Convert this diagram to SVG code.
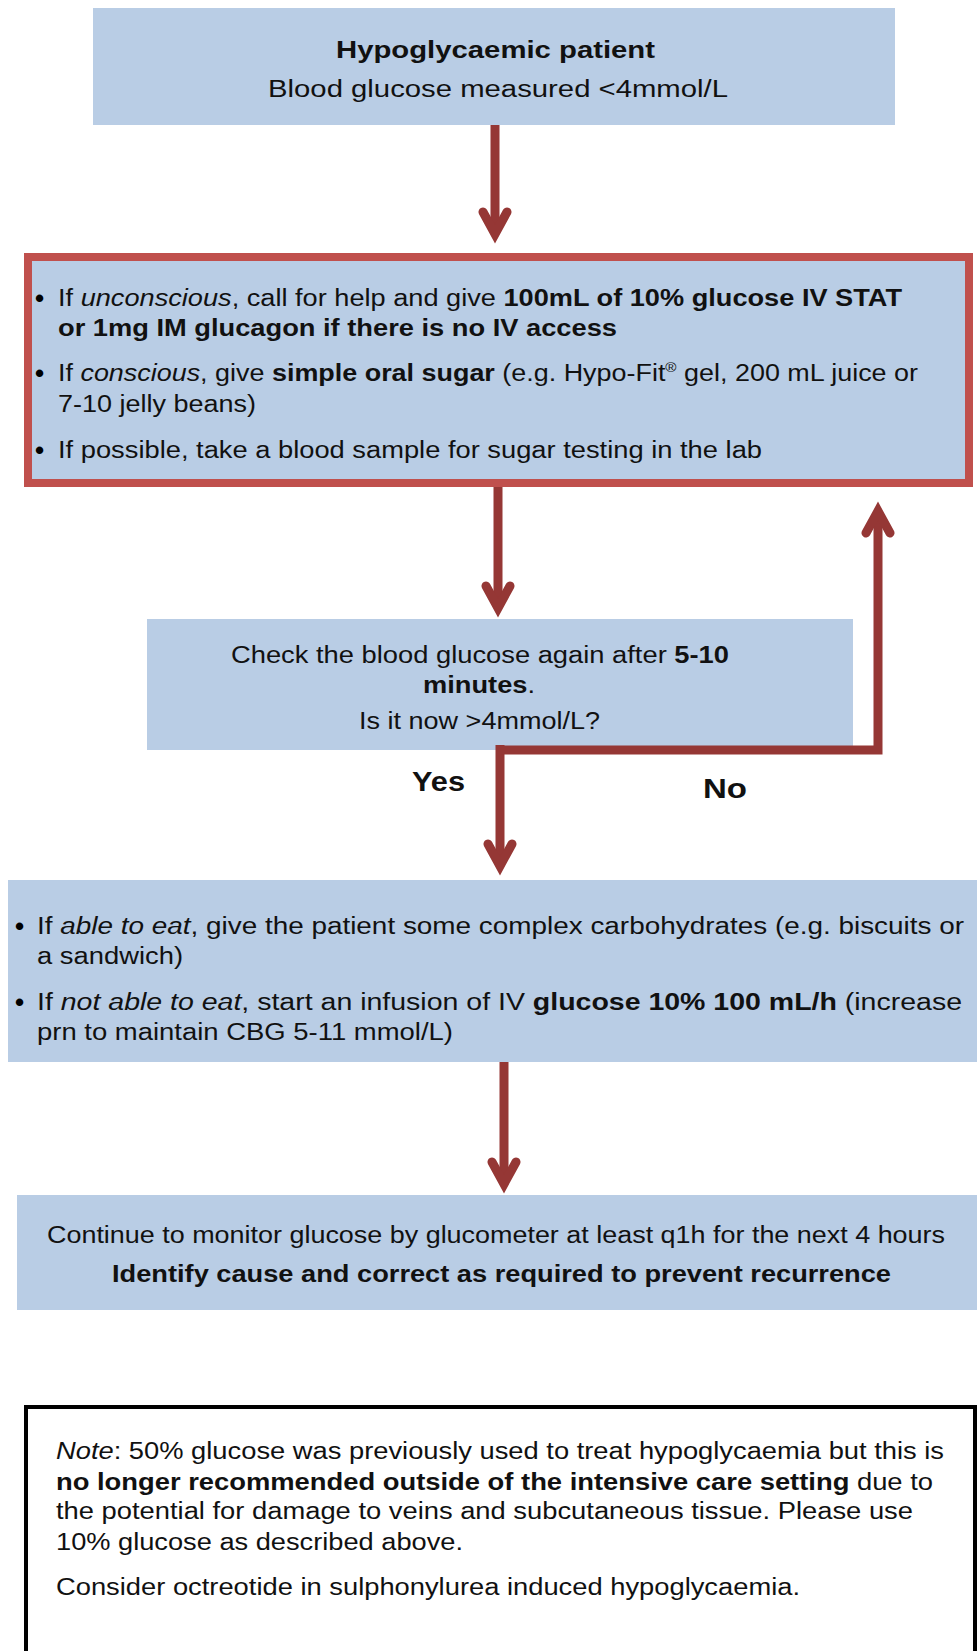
<svg xmlns="http://www.w3.org/2000/svg" width="977" height="1651" viewBox="0 0 977 1651">
<style>
.box{fill:#B9CDE5}
.t{font-family:"Liberation Sans",Arial,sans-serif;font-size:23px;fill:#111}
.b{font-weight:bold}
.i{font-style:italic}
.bul{font-family:"Liberation Sans",Arial,sans-serif;font-size:26px;font-weight:bold;fill:#000}
.ln{fill:none;stroke:#953735;stroke-width:9}
.lbl{font-family:"Liberation Sans",Arial,sans-serif;font-size:28px;font-weight:bold;fill:#111}
</style>
<defs>
<marker id="ah" markerUnits="userSpaceOnUse" viewBox="-30 -20 40 40" markerWidth="40" markerHeight="40" refX="0" refY="0" orient="auto">
<path d="M-22,-12 L0,0 L-22,12" fill="none" stroke="#953735" stroke-width="9" stroke-linecap="round" stroke-linejoin="miter"/>
</marker>
</defs>
<rect width="977" height="1651" fill="#fff"/>

<g id="start">
<rect class="box" x="93" y="8" width="802" height="117"/>
<text class="t b" x="336" y="58" font-size="24" textLength="319" lengthAdjust="spacingAndGlyphs">Hypoglycaemic patient</text>
<text class="t" x="268" y="97" font-size="24" textLength="460" lengthAdjust="spacingAndGlyphs">Blood glucose measured &lt;4mmol/L</text>
</g>

<g id="treat">
<rect class="box" x="28" y="257" width="941" height="226" stroke="#C0504D" stroke-width="8"/>
<text class="bul" x="35" y="307">•</text>
<text class="t" x="58" y="306" textLength="844" lengthAdjust="spacingAndGlyphs">If <tspan class="i">unconscious</tspan>, call for help and give <tspan class="b">100mL of 10% glucose IV STAT</tspan></text>
<text class="t b" x="58" y="336" textLength="559" lengthAdjust="spacingAndGlyphs">or 1mg IM glucagon if there is no IV access</text>
<text class="bul" x="35" y="382">•</text>
<text class="t" x="58" y="381" textLength="860" lengthAdjust="spacingAndGlyphs">If <tspan class="i">conscious</tspan>, give <tspan class="b">simple oral sugar</tspan> (e.g. Hypo-Fit<tspan font-size="13" dy="-9">®</tspan><tspan dy="9"> gel, 200 mL juice or</tspan></text>
<text class="t" x="58" y="412" textLength="198" lengthAdjust="spacingAndGlyphs">7-10 jelly beans)</text>
<text class="bul" x="35" y="459">•</text>
<text class="t" x="58" y="458" textLength="704" lengthAdjust="spacingAndGlyphs">If possible, take a blood sample for sugar testing in the lab</text>
</g>

<g id="check">
<rect class="box" x="147" y="619" width="706" height="131"/>
<text class="t" x="231" y="663" textLength="498" lengthAdjust="spacingAndGlyphs">Check the blood glucose again after <tspan class="b">5-10</tspan></text>
<text class="t" x="423" y="693" textLength="112" lengthAdjust="spacingAndGlyphs"><tspan class="b">minutes</tspan>.</text>
<text class="t" x="359" y="729" textLength="241" lengthAdjust="spacingAndGlyphs">Is it now &gt;4mmol/L?</text>
</g>

<g id="yes-actions">
<rect class="box" x="8" y="880" width="969" height="182"/>
<text class="bul" x="15" y="935">•</text>
<text class="t" x="37" y="934" textLength="927" lengthAdjust="spacingAndGlyphs">If <tspan class="i">able to eat</tspan>, give the patient some complex carbohydrates (e.g. biscuits or</text>
<text class="t" x="37" y="964" textLength="146" lengthAdjust="spacingAndGlyphs">a sandwich)</text>
<text class="bul" x="15" y="1011">•</text>
<text class="t" x="37" y="1010" textLength="925" lengthAdjust="spacingAndGlyphs">If <tspan class="i">not able to eat</tspan>, start an infusion of IV <tspan class="b">glucose 10% 100 mL/h</tspan> (increase</text>
<text class="t" x="37" y="1040" textLength="416" lengthAdjust="spacingAndGlyphs">prn to maintain CBG 5-11 mmol/L)</text>
</g>

<g id="monitor">
<rect class="box" x="17" y="1195" width="960" height="115"/>
<text class="t" x="47" y="1243" textLength="898" lengthAdjust="spacingAndGlyphs">Continue to monitor glucose by glucometer at least q1h for the next 4 hours</text>
<text class="t b" x="112" y="1282" textLength="779" lengthAdjust="spacingAndGlyphs">Identify cause and correct as required to prevent recurrence</text>
</g>

<g id="note">
<rect x="26" y="1407" width="949" height="260" fill="#fff" stroke="#000" stroke-width="4"/>
<text class="t" x="56" y="1459" font-size="22" textLength="888" lengthAdjust="spacingAndGlyphs"><tspan class="i">Note</tspan>: 50% glucose was previously used to treat hypoglycaemia but this is</text>
<text class="t" x="56" y="1490" font-size="22" textLength="877" lengthAdjust="spacingAndGlyphs"><tspan class="b">no longer recommended outside of the intensive care setting</tspan> due to</text>
<text class="t" x="56" y="1519" font-size="22" textLength="857" lengthAdjust="spacingAndGlyphs">the potential for damage to veins and subcutaneous tissue. Please use</text>
<text class="t" x="56" y="1550" font-size="22" textLength="407" lengthAdjust="spacingAndGlyphs">10% glucose as described above.</text>
<text class="t" x="56" y="1595" font-size="22" textLength="744" lengthAdjust="spacingAndGlyphs">Consider octreotide in sulphonylurea induced hypoglycaemia.</text>
</g>

<g id="connectors">
<path class="ln" d="M495,125 L495,234" marker-end="url(#ah)"/>
<path class="ln" d="M498,487 L498,608" marker-end="url(#ah)"/>
<path class="ln" d="M500,745 L500,866" marker-end="url(#ah)"/>
<path class="ln" d="M500,750 L878,750 L878,511" marker-end="url(#ah)"/>
<path class="ln" d="M504,1062 L504,1184" marker-end="url(#ah)"/>
<text class="lbl" x="412" y="791" textLength="53" lengthAdjust="spacingAndGlyphs">Yes</text>
<text class="lbl" x="703" y="798" textLength="44" lengthAdjust="spacingAndGlyphs">No</text>
</g>
</svg>
